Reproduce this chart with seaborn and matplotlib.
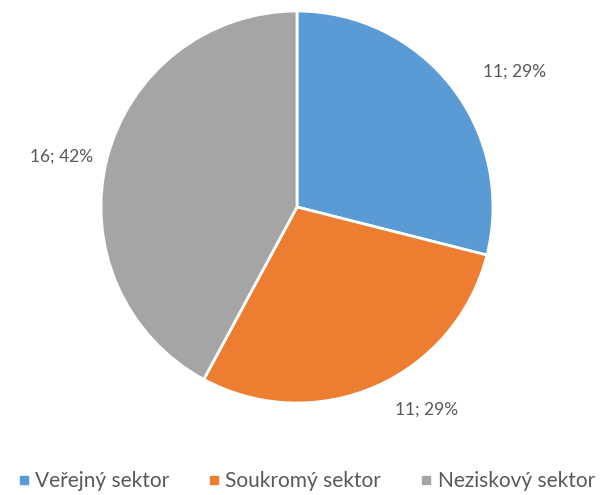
import numpy as np
import seaborn as sns
import matplotlib.pyplot as plt
from matplotlib.lines import Line2D

sns.set_theme(style="white")
plt.rcParams["font.family"] = ["Lato", "DejaVu Sans"]

# data
sectors = ["Veřejný sektor", "Soukromý sektor", "Neziskový sektor"]
counts = [11, 11, 16]
colors = ["#5B9BD5", "#ED7D31", "#A5A5A5"]

# label positions (pixels) as Excel placed them
label_xy = [(515, 72), (427, 410), (62, 157)]

total = sum(counts)

fig = plt.figure(figsize=(6.03, 4.95), dpi=100)
ax = fig.add_axes([0, 0, 1, 1])
ax.set_xlim(0, 603)
ax.set_ylim(495, 0)
ax.axis("off")

# pie drawn in its own axes over the chart area
pax = fig.add_axes([(297 - 196) / 603, (495 - 207 - 196) / 495, 392 / 603, 392 / 495])
pax.pie(
    counts,
    colors=colors,
    startangle=90,
    counterclock=False,
    radius=1.0,
    wedgeprops=dict(edgecolor="white", linewidth=2),
)
pax.set_xlim(-1.0, 1.0)
pax.set_ylim(-1.0, 1.0)
pax.set_aspect("auto")
pax.axis("off")

for (x, y), n in zip(label_xy, counts):
    pct = round(n / total * 100)
    ax.text(x, y, f"{n}; {pct}%", ha="center", va="center", fontsize=12.5, color="#595959")

handles = [Line2D([0], [0], marker="s", linestyle="", markersize=6,
                  markerfacecolor=c, markeredgecolor=c) for c in colors]
fig.legend(handles, sectors, loc="lower center", ncol=3, frameon=False,
           bbox_to_anchor=(0.505, -0.03), fontsize=15, handletextpad=0.1,
           handlelength=0.9, columnspacing=1.7, labelcolor="#595959")

plt.savefig("out.png", dpi=100)
